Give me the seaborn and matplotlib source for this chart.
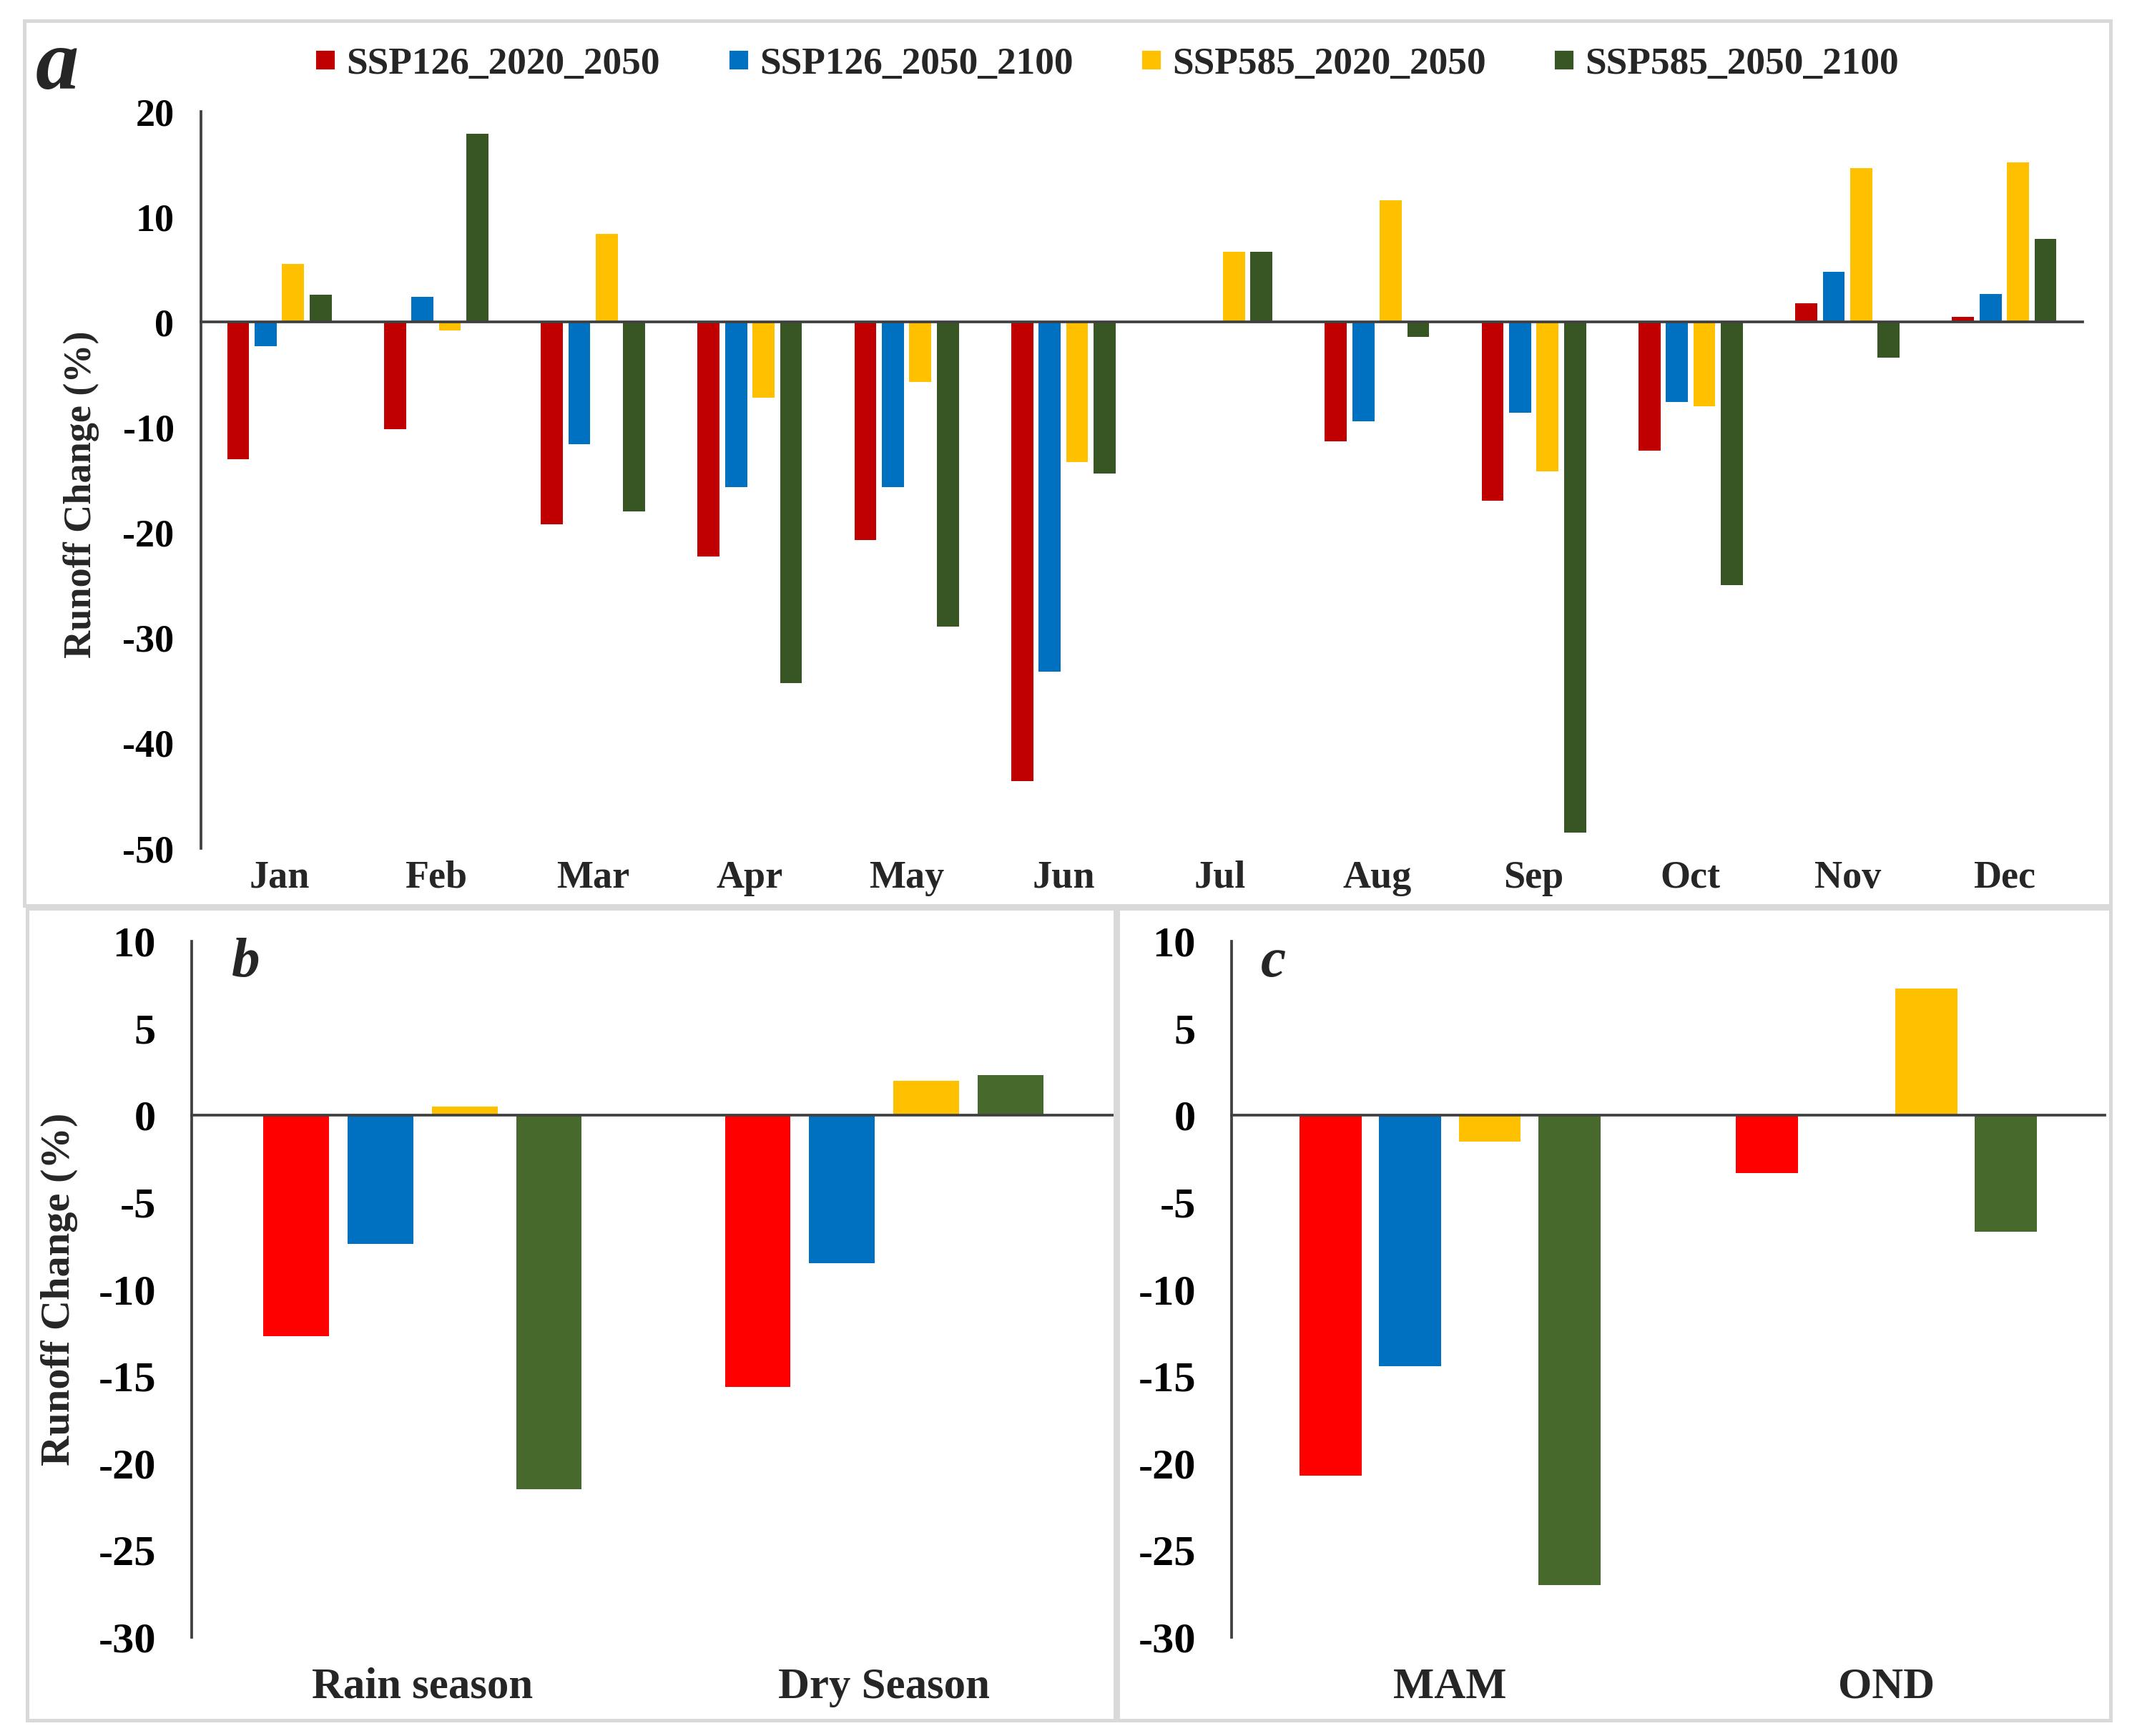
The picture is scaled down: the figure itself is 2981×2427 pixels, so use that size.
import numpy as np
import pandas as pd
import matplotlib
matplotlib.use("Agg")
import matplotlib.pyplot as plt
from matplotlib.lines import Line2D
from matplotlib.patches import Rectangle
import seaborn as sns

# ---------------- data ----------------
scenarios = ["SSP126_2020_2050", "SSP126_2050_2100", "SSP585_2020_2050", "SSP585_2050_2100"]

months = ["Jan", "Feb", "Mar", "Apr", "May", "Jun", "Jul", "Aug", "Sep", "Oct", "Nov", "Dec"]
ssp126_2020_2050 = [-13.0, -10.2, -19.2, -22.3, -20.7, -43.6, 0.0, -11.3, -17.0, -12.2, 1.8, 0.5]
ssp126_2050_2100 = [-2.3, 2.4, -11.6, -15.7, -15.7, -33.2, 0.0, -9.4, -8.6, -7.6, 4.8, 2.7]
ssp585_2020_2050 = [5.5, -0.8, 8.4, -7.2, -5.7, -13.3, 6.7, 11.6, -14.2, -8.0, 14.6, 15.2]
ssp585_2050_2100 = [2.6, 17.9, -18.0, -34.3, -28.9, -14.4, 6.7, -1.4, -48.5, -25.0, -3.4, 7.9]

seasons_b = ["Rain season", "Dry Season"]
b_ssp126_2020_2050 = [-12.7, -15.6]
b_ssp126_2050_2100 = [-7.4, -8.5]
b_ssp585_2020_2050 = [0.5, 2.0]
b_ssp585_2050_2100 = [-21.5, 2.3]

seasons_c = ["MAM", "OND"]
c_ssp126_2020_2050 = [-20.7, -3.3]
c_ssp126_2050_2100 = [-14.4, 0.0]
c_ssp585_2020_2050 = [-1.5, 7.3]
c_ssp585_2050_2100 = [-27.0, -6.7]

colors_a = ["#C00000", "#0070C0", "#FFC000", "#375623"]
colors_bc = ["#FF0000", "#0070C0", "#FFC000", "#476A2C"]


def long_df(cats, series):
    rows = []
    for s, vals in zip(scenarios, series):
        for c, v in zip(cats, vals):
            rows.append({"Category": c, "Scenario": s, "Change": v})
    return pd.DataFrame(rows)


df_a = long_df(months, [ssp126_2020_2050, ssp126_2050_2100, ssp585_2020_2050, ssp585_2050_2100])
df_b = long_df(seasons_b, [b_ssp126_2020_2050, b_ssp126_2050_2100, b_ssp585_2020_2050, b_ssp585_2050_2100])
df_c = long_df(seasons_c, [c_ssp126_2020_2050, c_ssp126_2050_2100, c_ssp585_2020_2050, c_ssp585_2050_2100])

# ---------------- style ----------------
sns.set_theme(style="white")
plt.rcParams["font.family"] = ["Liberation Serif", "DejaVu Serif"]
plt.rcParams["font.weight"] = "bold"
plt.rcParams["axes.unicode_minus"] = False

W, H = 2981, 2427
DPI = 300
fig = plt.figure(figsize=(W / DPI, H / DPI), dpi=DPI)

spine_color = "#404040"

# panel frames (light grey boxes)
for (x0, y0, x1, y1) in [(34, 29, 2951, 1266), (38, 1270, 1559, 2405), (1563, 1270, 2951, 2405)]:
    fig.patches.append(Rectangle((x0 / W, 1 - y1 / H), (x1 - x0) / W, (y1 - y0) / H,
                                 transform=fig.transFigure, fill=False,
                                 edgecolor="#D9D9D9", linewidth=1.2))


def style_axes(ax, cats, ylim, yticks, tick_fs, lab_fs, ypad, xpad, tick_len):
    n = len(cats)
    for side in ["top", "right"]:
        ax.spines[side].set_visible(False)
    ax.spines["left"].set_color(spine_color)
    ax.spines["left"].set_linewidth(0.9)
    ax.spines["bottom"].set_color(spine_color)
    ax.spines["bottom"].set_linewidth(0.9)
    ax.spines["bottom"].set_position(("data", 0))
    ax.set_xlim(-0.5, n - 0.5)
    ax.set_ylim(*ylim)
    ax.set_yticks(yticks)
    ax.set_yticklabels([str(int(t)) for t in yticks], fontsize=tick_fs, fontweight="bold")
    ax.tick_params(axis="y", length=0, pad=ypad, colors="black")
    bounds = np.arange(n) + 0.5
    ax.set_xticks(bounds)
    ax.set_xticklabels([""] * n)
    ax.tick_params(axis="x", direction="inout", length=tick_len, width=0.9, color=spine_color)
    ax.set_xlabel("")
    ax.set_ylabel("")
    sec = ax.secondary_xaxis("bottom")
    sec.set_xticks(np.arange(n))
    sec.set_xticklabels(cats, fontsize=lab_fs, fontweight="bold")
    sec.tick_params(length=0, pad=xpad)
    sec.spines["bottom"].set_visible(False)
    ax.grid(False)


# ---------------- panel a ----------------
ax_a = fig.add_axes([281 / W, 1 - 1186 / H, (2912 - 281) / W, (1186 - 156) / H])
sns.barplot(data=df_a, x="Category", y="Change", hue="Scenario", order=months,
            hue_order=scenarios, palette=colors_a, width=0.7, gap=0.2,
            saturation=1, legend=False, linewidth=0, ax=ax_a)
style_axes(ax_a, months, (-50, 20), np.arange(-50, 21, 10), 13, 13, 9, 4, 4)
ax_a.set_ylabel("Runoff Change (%)", fontsize=13, fontweight="bold")
ax_a.yaxis.set_label_coords(-0.054, 0.48)

handles = [Line2D([], [], marker="s", linestyle="none", markersize=5.5,
                  markerfacecolor=c, markeredgecolor=c) for c in colors_a]
fig.legend(handles, scenarios, loc="center", bbox_to_anchor=(0.519, 0.963), ncol=4,
           frameon=False, prop={"size": 12.8, "weight": "bold"}, handlelength=0.6,
           handletextpad=0.25, columnspacing=1.75)

fig.text(50 / W, 1 - 95 / H, "a", fontsize=29, fontweight="bold", fontstyle="italic",
         ha="left", va="center")

# ---------------- panel b ----------------
ax_b = fig.add_axes([268 / W, 1 - 2289 / H, (1559 - 268) / W, (2289 - 1316) / H])
sns.barplot(data=df_b, x="Category", y="Change", hue="Scenario", order=seasons_b,
            hue_order=scenarios, palette=colors_bc, width=0.73, gap=0.22,
            saturation=1, legend=False, linewidth=0, ax=ax_b)
style_axes(ax_b, seasons_b, (-30, 10), np.arange(-30, 11, 5), 14.5, 14.6, 12, 10, 8)
ax_b.set_ylabel("Runoff Change (%)", fontsize=14, fontweight="bold")
ax_b.yaxis.set_label_coords(-0.123, 0.5)
fig.text(344 / W, 1 - 1346 / H, "b", fontsize=19, fontweight="bold", fontstyle="italic",
         ha="center", va="center")

# ---------------- panel c ----------------
ax_c = fig.add_axes([1722 / W, 1 - 2289 / H, (2943 - 1722) / W, (2289 - 1316) / H])
sns.barplot(data=df_c, x="Category", y="Change", hue="Scenario", order=seasons_c,
            hue_order=scenarios, palette=colors_bc, width=0.73, gap=0.22,
            saturation=1, legend=False, linewidth=0, ax=ax_c)
style_axes(ax_c, seasons_c, (-30, 10), np.arange(-30, 11, 5), 14.5, 14.6, 12, 10, 8)
fig.text(1780 / W, 1 - 1346 / H, "c", fontsize=19, fontweight="bold", fontstyle="italic",
         ha="center", va="center")

fig.savefig("out.png", dpi=DPI, facecolor="white")
